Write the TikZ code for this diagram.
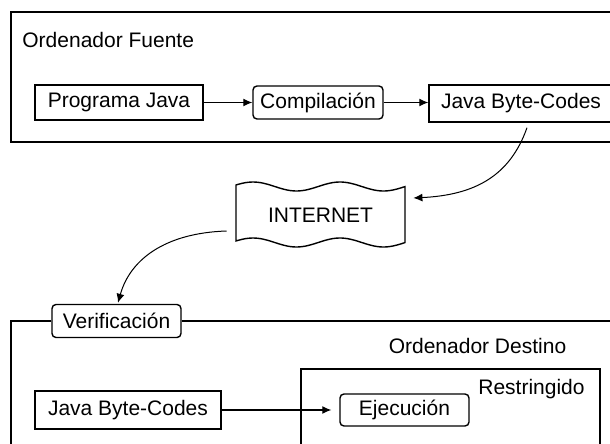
\documentclass[tikz,border=0pt]{standalone}
\usepackage{fontspec}
\setmainfont{Liberation Sans}
\usetikzlibrary{arrows.meta}

\begin{document}
\begin{tikzpicture}[x=0.5pt,y=-0.5pt,
    font=\fontsize{10.5}{12}\selectfont,
    marco/.style={line width=0.8pt},
    caja/.style={draw, line width=0.7pt, inner sep=0pt},
    proc/.style={caja, rounded corners=2pt},
    etiqueta/.style={anchor=base, inner sep=0pt},
    flecha/.style={-{Latex[length=4.5pt,width=4pt]}, line width=0.6pt},
    curva/.style={flecha, line width=0.5pt}]
    \path[use as bounding box, clip] (0,0) rectangle (610,444);
    \draw[marco] (615,12) -- (11,12) -- (11,142) -- (615,142);
    \node[etiqueta, anchor=base west] (fuente) at (22,48) {Ordenador Fuente};
    \node[caja, minimum width=84pt, minimum height=17.5pt] (prog) at (119,102.5) {Programa Java};
    \node[proc, minimum width=65pt, minimum height=16.5pt] (comp) at (318,102.5) {Compilación};
    \node[caja, minimum width=92pt, minimum height=18.5pt] (jbcf) at (521,103.5) {Java Byte-Codes};
    \draw[flecha] (prog.east) -- (comp.west);
    \draw[flecha] (comp.east) -- (comp.east -| jbcf.west);
    \node[minimum width=84.5pt, minimum height=32pt, inner sep=0pt] (inet) at (320.5,215) {INTERNET};
    \draw[line width=0.7pt, shift={(inet.center)}]
        plot[domain=-84.5:84.5, samples=60, smooth] (\x, {-28.5 - 4.5*cos(4.138*(\x-19.5))})
        -- plot[domain=84.5:-84.5, samples=60, smooth] (\x, {27.5 - 4.5*cos(4.138*(\x-19.5))})
        -- cycle;
    \draw[curva] ([xshift=3pt,yshift=-2.5pt]jbcf.south) .. controls +(-17,48) and +(62,-3) .. ([xshift=4pt,yshift=8.5pt]inet.east);
    \node[proc, fill=white, minimum width=64.5pt, minimum height=16.5pt] (ver) at (116.5,321) {Verificación};
    \draw[curva] ([xshift=-4.5pt,yshift=-8pt]inet.west) .. controls +(-62,2) and +(12,-43) .. ([xshift=0.75pt,yshift=0.5pt]ver.north);
    \draw[marco] (ver.west) -- (11,321) -- (11,450);
    \draw[marco] (ver.east) -- (615,321);
    \node[etiqueta] (destino) at (477.5,353) {Ordenador Destino};
    \draw[marco] (301,450) -- (301,369) -- (600,369) -- (600,450);
    \node[etiqueta] (restr) at (531.5,394) {Restringido};
    \node[caja, minimum width=93pt, minimum height=19pt] (jbcd) at (128,410) {Java Byte-Codes};
    \node[proc, minimum width=64.5pt, minimum height=16pt] (ejec) at (404.5,410) {Ejecución};
    \draw[flecha, shorten >=4pt] (jbcd.east) -- (ejec.west);
\end{tikzpicture}
\end{document}
